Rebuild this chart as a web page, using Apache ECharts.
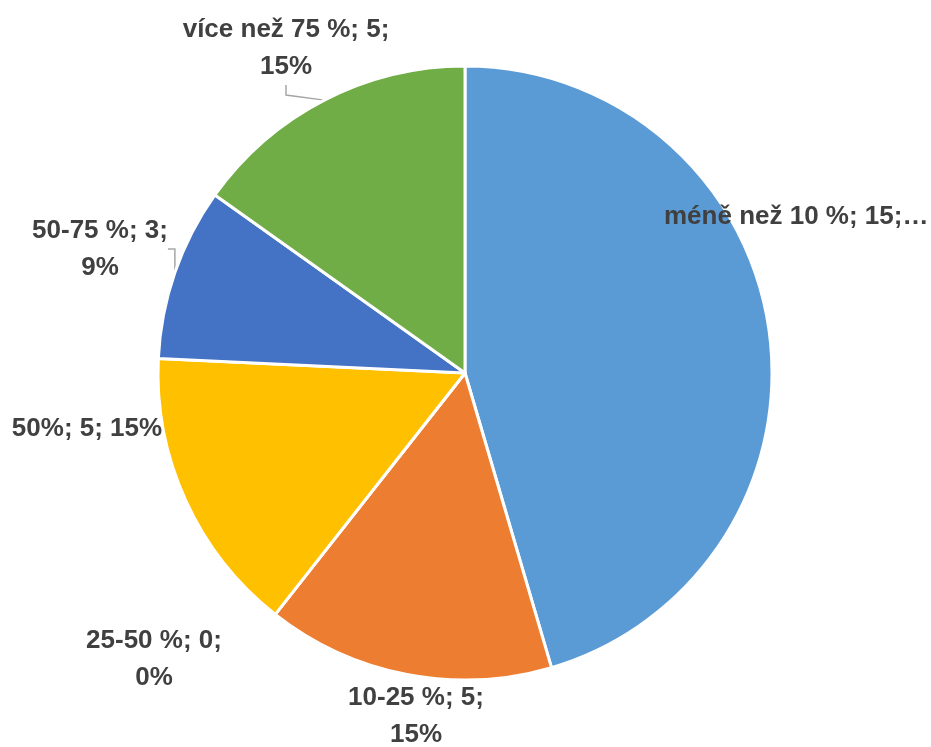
<!DOCTYPE html>
<html>
<head>
<meta charset="utf-8">
<script src="https://cdn.jsdelivr.net/npm/echarts@6/dist/echarts.min.js"></script>
<style>
html,body{margin:0;padding:0;background:#fff;}
#chart{width:931px;height:747px;}
</style>
</head>
<body>
<div id="chart"></div>
<script>
// Data
var categories = ['méně než 10 %', '10-25 %', '25-50 %', '50%', '50-75 %', 'více než 75 %'];
var values = [15, 5, 0, 5, 3, 5];
var colors = ['#5B9BD5', '#ED7D31', '#A5A5A5', '#FFC000', '#4472C4', '#70AD47'];

// Label placement (text anchor positions, not marks)
var labelPos = [
  {x: 664, y: 217, align: 'left', wrap: false, truncate: true, line: false},
  {x: 416, y: 716, align: 'center', wrap: true, line: false},
  {x: 154, y: 659, align: 'center', wrap: true, line: false},
  {x: 87, y: 429, align: 'center', wrap: false, line: false},
  {x: 100, y: 249, align: 'center', wrap: true, line: true},
  {x: 286, y: 48, align: 'center', wrap: true, line: true}
];

var total = values.reduce(function(a, b){ return a + b; }, 0);
var FONT = '"Liberation Sans", Arial, Helvetica, sans-serif';

var data = categories.map(function(name, i){
  var lp = labelPos[i];
  var item = {
    name: name,
    value: values[i],
    itemStyle: {color: colors[i]},
    labelLine: {show: lp.line},
    label: {}
  };
  if (lp.truncate) {
    item.label = {width: 297, overflow: 'truncate', ellipsis: '…'};
  }
  return item;
});

var chart = echarts.init(document.getElementById('chart'), null, {renderer: 'canvas'});
chart.setOption({
  animation: false,
  backgroundColor: '#ffffff',
  series: [{
    type: 'pie',
    center: [465, 373],
    radius: [0, 307],
    startAngle: 90,
    clockwise: true,
    avoidLabelOverlap: false,
    data: data,
    itemStyle: {borderColor: '#ffffff', borderWidth: 3},
    label: {
      show: true,
      position: 'outside',
      color: '#404040',
      fontFamily: FONT,
      fontWeight: 'bold',
      fontSize: 26,
      lineHeight: 37,
      formatter: function(p){
        var pct = Math.round(p.value / total * 100);
        var sep = labelPos[p.dataIndex].wrap ? '\n' : ' ';
        return p.name + '; ' + p.value + ';' + sep + pct + '%';
      }
    },
    labelLine: {
      show: true,
      length: 10,
      length2: 10,
      lineStyle: {color: '#A6A6A6', width: 1.5}
    },
    labelLayout: function(params){
      var lp = labelPos[params.dataIndex];
      return {x: lp.x, y: lp.y, align: lp.align, verticalAlign: 'middle'};
    },
    emphasis: {disabled: true}
  }]
});
</script>
</body>
</html>
